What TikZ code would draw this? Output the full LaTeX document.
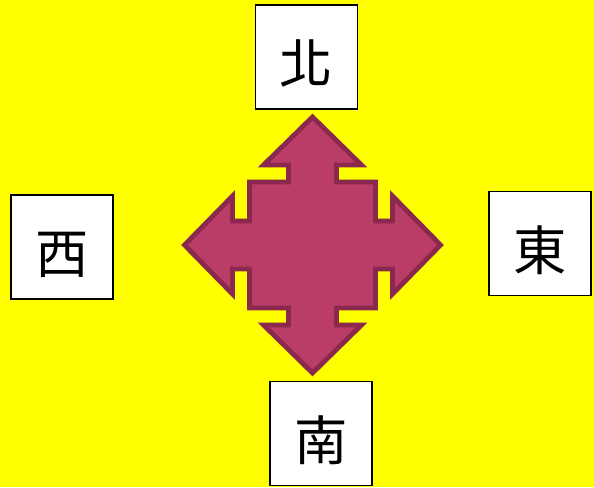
\documentclass[tikz,border=0pt]{standalone}
\usepackage{fontspec}
\usepackage{xcolor}
\newfontfamily\cjk{Noto Sans CJK TC}
\definecolor{arrowfill}{RGB}{186,61,103}
\definecolor{arrowline}{RGB}{139,40,78}
\definecolor{bgyellow}{RGB}{255,255,0}
\usetikzlibrary{positioning}

\begin{document}
\begin{tikzpicture}[x=0.75pt,y=-0.75pt,
 dirbox/.style={draw=black,line width=1.1pt,fill=white,minimum width=76.5pt,minimum height=78pt,inner sep=0pt,text height=45pt,text depth=5pt,font=\cjk\fontsize{40}{40}\selectfont},
 quad/.style={fill=arrowfill,draw=arrowline,line width=3.6pt,line join=miter}]
 \fill[bgyellow] (0,0) rectangle (594,487);
 \useasboundingbox (0,0) rectangle (594,487);
 % four-way arrow
 \draw[quad,shift={(312.5,245)}] (-63,-24) -- (-63,-63) -- (-24,-63) -- (-24,-80) -- (-49,-80) -- (0,-128) -- (49,-80) -- (24,-80) -- (24,-63)
   -- (63,-63) -- (63,-24) -- (80,-24) -- (80,-49) -- (128,0) -- (80,49) -- (80,24) -- (63,24)
   -- (63,63) -- (24,63) -- (24,80) -- (49,80) -- (0,128) -- (-49,80) -- (-24,80) -- (-24,63)
   -- (-63,63) -- (-63,24) -- (-80,24) -- (-80,49) -- (-128,0) -- (-80,-49) -- (-80,-24) -- cycle;
 \node[dirbox] (north) at (306.5,57) {北};
 \node[dirbox] (west) at (62,247) {西};
 \node[dirbox] (east) at (540,243.5) {東};
 \node[dirbox] (south) at (321,433.5) {南};
\end{tikzpicture}
\end{document}
